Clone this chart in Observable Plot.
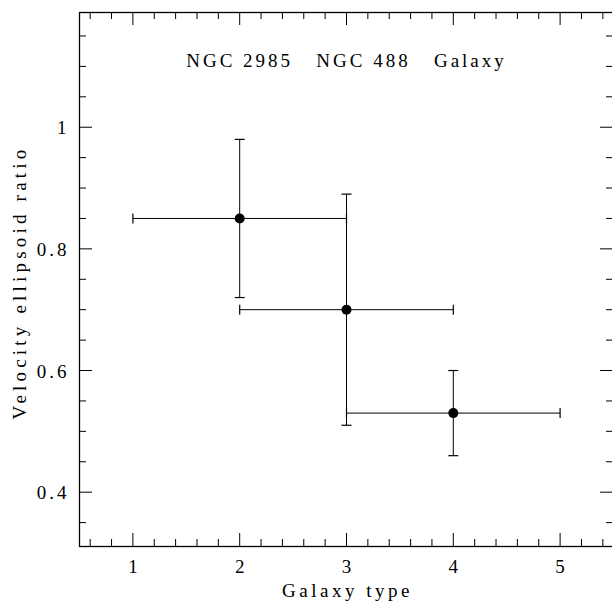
<!DOCTYPE html>
<html>
<head>
<meta charset="utf-8">
<script src="https://cdn.jsdelivr.net/npm/d3@7"></script>
<script src="https://cdn.jsdelivr.net/npm/@observablehq/plot@0.6"></script>
<style>
  html, body { margin: 0; padding: 0; background: #fff; }
  #chart svg { display: block; }
</style>
</head>
<body>
<div id="chart"></div>
<script>
// Data
const galaxyType = [2, 3, 4];
const ratio = [0.85, 0.70, 0.53];
const typeLow = [1, 2, 3];
const typeHigh = [3, 4, 5];
const ratioLow = [0.72, 0.51, 0.46];
const ratioHigh = [0.98, 0.89, 0.60];

// Tick values / labels
const xMajor = [1, 2, 3, 4, 5];
const xMinor = [0.6, 0.8, 1.2, 1.4, 1.6, 1.8, 2.2, 2.4, 2.6, 2.8, 3.2, 3.4, 3.6, 3.8, 4.2, 4.4, 4.6, 4.8, 5.2, 5.4];
const yMajor = [0.4, 0.6, 0.8, 1.0];
const yMinor = [0.35, 0.45, 0.5, 0.55, 0.65, 0.7, 0.75, 0.85, 0.9, 0.95, 1.05, 1.1, 1.15];
const yTickLabels = ["0.4", "0.6", "0.8", "1"];
const titleText = "NGC 2985   NGC 488   Galaxy";
const xLabel = "Galaxy type";
const yLabel = "Velocity ellipsoid ratio";

const points = galaxyType.map((x, i) => ({
  x, y: ratio[i], x1: typeLow[i], x2: typeHigh[i], y1: ratioLow[i], y2: ratioHigh[i]
}));

const W = 612, H = 601;
const mL = 79, mT = 12, mB = 55, mR = -1;
const innerW = W - mL - mR, innerH = H - mT - mB;
const majorLen = 13, minorLen = 7;

// cap symbols for error bar ends
const capH = {draw(ctx) { ctx.moveTo(-5, 0); ctx.lineTo(5, 0); }};
const capV = {draw(ctx) { ctx.moveTo(0, -5); ctx.lineTo(0, 5); }};

const plot = Plot.plot({
  width: W,
  height: H,
  marginLeft: mL,
  marginTop: mT,
  marginBottom: mB,
  marginRight: mR,
  style: {fontFamily: "'Liberation Serif', serif", fontSize: "19px", background: "#fff", color: "#000", overflow: "visible"},
  x: {type: "linear", domain: [0.5, 5.5], axis: null},
  y: {type: "linear", domain: [0.3107, 1.1886], axis: null},
  marks: [
    // ticks on all four sides, pointing inward
    Plot.tickX(xMajor, {x: d => d, insetTop: innerH - majorLen, stroke: "#000", strokeWidth: 1}),
    Plot.tickX(xMinor, {x: d => d, insetTop: innerH - minorLen, stroke: "#000", strokeWidth: 1}),
    Plot.tickX(xMajor, {x: d => d, insetBottom: innerH - majorLen, stroke: "#000", strokeWidth: 1}),
    Plot.tickX(xMinor, {x: d => d, insetBottom: innerH - minorLen, stroke: "#000", strokeWidth: 1}),
    Plot.tickY(yMajor, {y: d => d, insetRight: innerW - majorLen, stroke: "#000", strokeWidth: 1}),
    Plot.tickY(yMinor, {y: d => d, insetRight: innerW - minorLen, stroke: "#000", strokeWidth: 1}),
    Plot.tickY(yMajor, {y: d => d, insetLeft: innerW - majorLen, stroke: "#000", strokeWidth: 1}),
    Plot.tickY(yMinor, {y: d => d, insetLeft: innerW - minorLen, stroke: "#000", strokeWidth: 1}),
    Plot.frame({stroke: "#000", strokeWidth: 1.3}),
    // tick labels
    Plot.text(xMajor, {x: d => d, text: d => String(d), frameAnchor: "bottom", textAnchor: "middle", lineAnchor: "middle", dy: 20.5, dx: 1.5, fill: "#000", className: "tl"}),
    Plot.text(yMajor, {y: d => d, text: (d, i) => yTickLabels[i], frameAnchor: "left", textAnchor: "end", lineAnchor: "middle", dx: -10, dy: 1, fill: "#000", className: "tl"}),
    // error bars
    Plot.link(points, {x1: "x1", x2: "x2", y1: "y", y2: "y", stroke: "#000", strokeWidth: 1}),
    Plot.link(points, {x1: "x", x2: "x", y1: "y1", y2: "y2", stroke: "#000", strokeWidth: 1}),
    Plot.dot(points, {x: "x1", y: "y", symbol: capV, stroke: "#000", strokeWidth: 1.2, fill: "none"}),
    Plot.dot(points, {x: "x2", y: "y", symbol: capV, stroke: "#000", strokeWidth: 1.2, fill: "none"}),
    Plot.dot(points, {x: "x", y: "y1", symbol: capH, stroke: "#000", strokeWidth: 1.2, fill: "none"}),
    Plot.dot(points, {x: "x", y: "y2", symbol: capH, stroke: "#000", strokeWidth: 1.2, fill: "none"}),
    Plot.dot(points, {x: "x", y: "y", r: 5, fill: "#000", stroke: "none"}),
    // title and axis labels
    Plot.text([titleText], {text: d => d, frameAnchor: "top", textAnchor: "middle", lineAnchor: "middle", dy: 48.5, fill: "#000", className: "ttl"}),
    Plot.text([xLabel], {text: d => d, frameAnchor: "bottom", textAnchor: "middle", lineAnchor: "middle", dy: 44, dx: 1, fill: "#000", className: "xl"}),
    Plot.text([yLabel], {text: d => d, frameAnchor: "left", textAnchor: "middle", lineAnchor: "middle", rotate: -90, dx: -60, dy: 3, fill: "#000", className: "yl"})
  ]
});

document.getElementById("chart").appendChild(plot);

const svg = d3.select(plot);
svg.selectAll("text").style("letter-spacing", "3px");
svg.selectAll(".xl text").style("letter-spacing", "3.5px");
svg.selectAll(".yl text").style("letter-spacing", "4.2px");
</script>
</body>
</html>
